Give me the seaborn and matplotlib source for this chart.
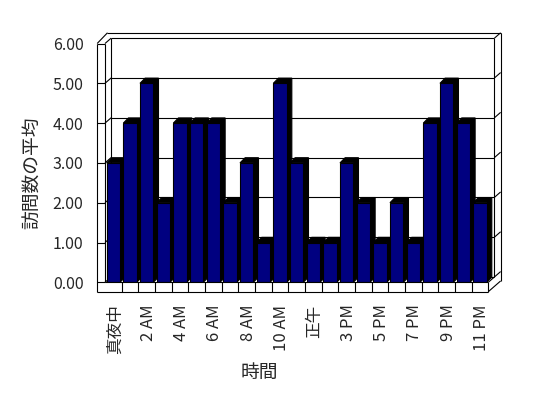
#%%
import pandas as pd
import seaborn as sns
import matplotlib.pyplot as plt
from matplotlib.patches import Polygon

#%% dados
horas = ['真夜中', '1 AM', '2 AM', '3 AM', '4 AM', '5 AM', '6 AM', '7 AM',
         '8 AM', '9 AM', '10 AM', '11 AM', '正午', '2 PM', '3 PM', '4 PM',
         '5 PM', '6 PM', '7 PM', '8 PM', '9 PM', '10 PM', '11 PM']
visitas = [3, 4, 5, 2, 4, 4, 4, 2, 3, 1, 5, 3, 1, 1, 3, 2, 1, 2, 1, 4, 5, 4, 2]
niveis = [0, 1, 2, 3, 4, 5, 6]

df = pd.DataFrame({'hora': horas, 'visitas': visitas})

#%% estilo
sns.set_style('white')
plt.rcParams['font.family'] = ['Noto Sans CJK JP', 'DejaVu Sans']

fig = plt.figure(figsize=(5.48, 3.98), dpi=100)
ax = fig.add_axes([105 / 548, 1 - 282.3 / 398, 383.3 / 548, 238.8 / 398])

sns.barplot(data=df, x='hora', y='visitas', color='#000080', saturation=1,
            width=0.8, edgecolor='black', linewidth=0.8, ax=ax, zorder=3)

n = len(horas)
xL, xR = -0.5, n - 0.5
ytop = niveis[-1]
ax.set_xlim(xL, xR)
ax.set_ylim(0, ytop)

# profundidade do "3D" (em unidades de dados)
DX, DY = 0.37, 0.135      # parede do fundo
BDX, BDY = 0.31, 0.13     # lados/topo das barras
T = 0.47                  # espessura da parede esquerda
FT = 0.236                # espessura do chao

lw = 0.8


def linha(xs, ys, z=1):
    ax.plot(xs, ys, color='black', lw=lw, clip_on=False, zorder=z,
            solid_capstyle='butt')


# lados e topos pretos das barras
for p in list(ax.patches):
    x0, w, h = p.get_x(), p.get_width(), p.get_height()
    pts = [(x0, h), (x0 + BDX, h + BDY), (x0 + w + BDX, h + BDY),
           (x0 + w + BDX, BDY), (x0 + w, 0), (x0 + w, h)]
    ax.add_patch(Polygon(pts, closed=True, facecolor='black', edgecolor='black',
                         lw=lw, zorder=2, clip_on=False))

# parede do fundo + grade
for v in niveis:
    linha([xL + DX, xR + DX], [v + DY, v + DY])
    linha([xR + DX, xR + 2 * DX], [v + DY, v + 2 * DY])
    linha([xL - T, xL], [v, v], z=4)
    linha([xL, xL + DX], [v, v + DY])
linha([xL + DX, xL + DX], [DY, ytop + DY])
linha([xR + DX, xR + DX], [DY, ytop + DY])

# contorno externo
linha([xL - T, xL - T], [-FT, ytop], z=4)
linha([xL, xL], [0, ytop], z=4)
linha([xL - T, xL + 0.15], [ytop, ytop + 2 * DY], z=4)
linha([xL + 0.15, xR + 2 * DX], [ytop + 2 * DY, ytop + 2 * DY], z=4)
linha([xR + 2 * DX, xR + 2 * DX], [ytop + 2 * DY, -FT + 2 * DY], z=4)
linha([xR, xR + 2 * DX], [-FT, -FT + 2 * DY], z=4)
linha([xR, xR + DX], [0, DY], z=4)

# chao com as divisoes
linha([xL - T, xR], [-FT, -FT], z=4)
linha([xL, xR], [0, 0], z=4)
for k in range(1, n + 1):
    linha([k - 0.5, k - 0.5], [-FT, 0], z=4)

#%% eixos e rotulos
ax.set_xticks([i + 0.1 for i in range(0, n, 2)])
ax.set_xticklabels(horas[::2], rotation=90, va='top', ha='center', fontsize=12)
ax.set_yticks(niveis)
ax.set_yticklabels([f'{v:.2f}' for v in niveis], fontsize=11.5)
ax.tick_params(axis='x', length=0, pad=16)
ax.tick_params(axis='y', length=0, pad=15.5)

ax.set_xlabel('時間', fontsize=13.5, va='center')
ax.xaxis.set_label_coords(0.402, -0.376)
ax.set_ylabel('訪問数の平均', fontsize=13.5, va='center')
ax.yaxis.set_label_coords(-0.188, 0.458)

for s in ax.spines.values():
    s.set_visible(False)
ax.set_facecolor('none')

fig.savefig('out.png', dpi=100, facecolor='white')
